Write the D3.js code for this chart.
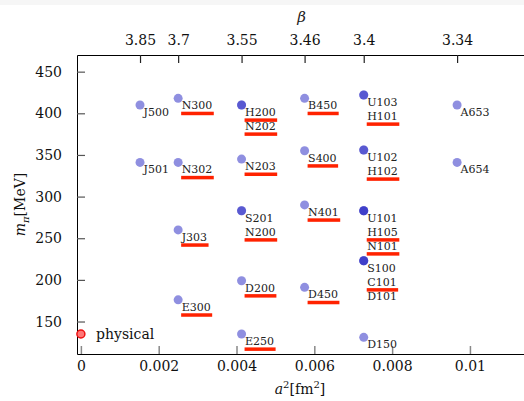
<!DOCTYPE html>
<html>
<head>
<meta charset="utf-8">
<script src="https://cdn.jsdelivr.net/npm/d3@7"></script>
<style>
  body { margin: 0; background: #fff; }
  svg { display: block; }
  .serif { font-family: "DejaVu Serif", serif; }
</style>
</head>
<body>
<svg id="chart" width="524" height="401"></svg>
<script>
// lattice spacings per beta
const betaLabels = ["3.85", "3.7", "3.55", "3.46", "3.4", "3.34"];
const betaA2 = [0.00152, 0.0025, 0.00413, 0.00575, 0.00727, 0.00967];

// ensembles: name, beta index, pion mass (MeV)
const ensembleNames = ["J500", "J501",
  "N300", "N302", "J303", "E300",
  "H200", "N202", "N203", "S201", "N200", "D200", "E250",
  "B450", "S400", "N401", "D450",
  "U103", "H101", "U102", "H102", "U101", "H105", "N101", "S100", "C101", "D101", "D150",
  "A653", "A654"];
const ensembleBeta = [0, 0,
  1, 1, 1, 1,
  2, 2, 2, 2, 2, 2, 2,
  3, 3, 3, 3,
  4, 4, 4, 4, 4, 4, 4, 4, 4, 4, 4,
  5, 5];
const ensembleMpi = [410, 341,
  418, 341, 260, 176,
  410, 410, 345, 283, 283, 199, 135,
  418, 355, 290, 191,
  422, 422, 356, 356, 283, 283, 283, 223, 223, 223, 131,
  410, 341];
const underlined = ["N300", "H200", "N202", "B450", "H101", "N302", "N203", "S400", "H102",
  "N401", "J303", "N200", "H105", "N101", "C101", "D200", "D450", "E300", "E250"];

const physA2 = [0];
const physMpi = [135];

const xTicks = [0, 0.002, 0.004, 0.006, 0.008, 0.01];
const yTicks = [150, 200, 250, 300, 350, 400, 450];

const svg = d3.select("#chart");
const W = 524, H = 401;
const mLeft = 77, mRight = 524.4, mTop = 55, mBottom = 354;

svg.append("rect").attr("width", W).attr("height", 5).attr("fill", "#f6f6f6");

const x = d3.scaleLinear().domain([-0.0001, 0.0114]).range([mLeft, mRight]);
const y = d3.scaleLinear().domain([111, 470]).range([mBottom, mTop]);

// axes
const gl = svg.append("g").attr("transform", "translate(" + mLeft + ",0)")
  .call(d3.axisLeft(y).tickValues(yTicks).tickSize(-8).tickSizeOuter(0).tickPadding(15));
const gb = svg.append("g").attr("transform", "translate(0," + mBottom + ")")
  .call(d3.axisBottom(x).tickValues(xTicks).tickFormat(d => String(d)).tickSize(-8).tickSizeOuter(0).tickPadding(7));
const gt = svg.append("g").attr("transform", "translate(0," + mTop + ")")
  .call(d3.axisTop(x).tickValues(betaA2).tickFormat((d, i) => betaLabels[i]).tickSize(-8).tickSizeOuter(0).tickPadding(10));

[gl, gb, gt].forEach(g => {
  g.attr("font-family", null).attr("font-size", null);
  g.select(".domain").attr("stroke", "#000").attr("stroke-width", 1);
  g.selectAll(".tick line").attr("stroke", "#555").attr("stroke-width", 1.2);
  g.selectAll(".tick text").attr("fill", "#111")
    .attr("class", "serif").style("font-size", "14px");
});
gb.selectAll(".tick line").attr("stroke", "#888").attr("stroke-width", 1.5);
gt.selectAll(".tick line").attr("stroke", "#222");

// axis titles
svg.append("text")
  .attr("class", "serif")
  .attr("x", (mLeft + mRight) / 2 + 1).attr("y", 22)
  .attr("text-anchor", "middle")
  .style("font-size", "15px").style("font-style", "italic")
  .attr("fill", "#222")
  .text("β");

const xl = svg.append("text")
  .attr("class", "serif")
  .attr("x", 300).attr("y", 394)
  .attr("text-anchor", "middle")
  .style("font-size", "14px").attr("fill", "#111");
xl.append("tspan").style("font-style", "italic").text("a");
xl.append("tspan").attr("dy", -6).style("font-size", "10px").text("2");
xl.append("tspan").attr("dy", 6).text("[fm");
xl.append("tspan").attr("dy", -6).style("font-size", "10px").text("2");
xl.append("tspan").attr("dy", 6).text("]");

const yl = svg.append("text")
  .attr("class", "serif")
  .attr("transform", "translate(25," + ((mTop + mBottom) / 2) + ") rotate(-90)")
  .attr("text-anchor", "middle")
  .style("font-size", "14px").attr("fill", "#111");
yl.append("tspan").style("font-style", "italic").text("m");
yl.append("tspan").attr("dy", 3.5).style("font-size", "10px").style("font-style", "italic").text("π");
yl.append("tspan").attr("dy", -3.5).text("[MeV]");

// build ensemble table and label stacking
const groupCount = {};
const ensembles = ensembleNames.map((name, i) => {
  const key = ensembleBeta[i] + "_" + ensembleMpi[i];
  const slot = groupCount[key] || 0;
  groupCount[key] = slot + 1;
  return {
    name: name,
    a2: betaA2[ensembleBeta[i]],
    mpi: ensembleMpi[i],
    slot: slot,
    under: underlined.includes(name)
  };
});

// points (semi-transparent, overlaps darken)
svg.append("g").selectAll("circle")
  .data(ensembles)
  .enter().append("circle")
  .attr("cx", d => x(d.a2))
  .attr("cy", d => y(d.mpi))
  .attr("r", 4.5)
  .attr("fill", "#2828c4")
  .attr("fill-opacity", 0.52);

// labels
const lab = svg.append("g").selectAll("g")
  .data(ensembles)
  .enter().append("g")
  .attr("transform", d => "translate(" + (x(d.a2) + 3.5) + "," + (y(d.mpi) + 11 + d.slot * 14) + ")");

lab.append("text")
  .attr("class", "serif")
  .style("font-size", "11px")
  .attr("fill", "#222")
  .text(d => d.name);

lab.filter(d => d.under).each(function (d) {
  const g = d3.select(this);
  const w = g.select("text").node().getComputedTextLength();
  g.append("rect")
    .attr("x", -0.5).attr("y", 2.4)
    .attr("width", w + 2).attr("height", 3.5)
    .attr("fill", "#ff2200");
});

// physical point
svg.append("g").selectAll("circle")
  .data(physA2)
  .enter().append("circle")
  .attr("cx", d => x(d))
  .attr("cy", (d, i) => y(physMpi[i]))
  .attr("r", 4)
  .attr("fill", "#ff7777")
  .attr("stroke", "#ee1111")
  .attr("stroke-width", 1.5);

svg.append("text")
  .attr("class", "serif")
  .attr("x", 96).attr("y", y(physMpi[0]) + 5)
  .style("font-size", "14px")
  .attr("fill", "#111")
  .text("physical");
</script>
</body>
</html>
